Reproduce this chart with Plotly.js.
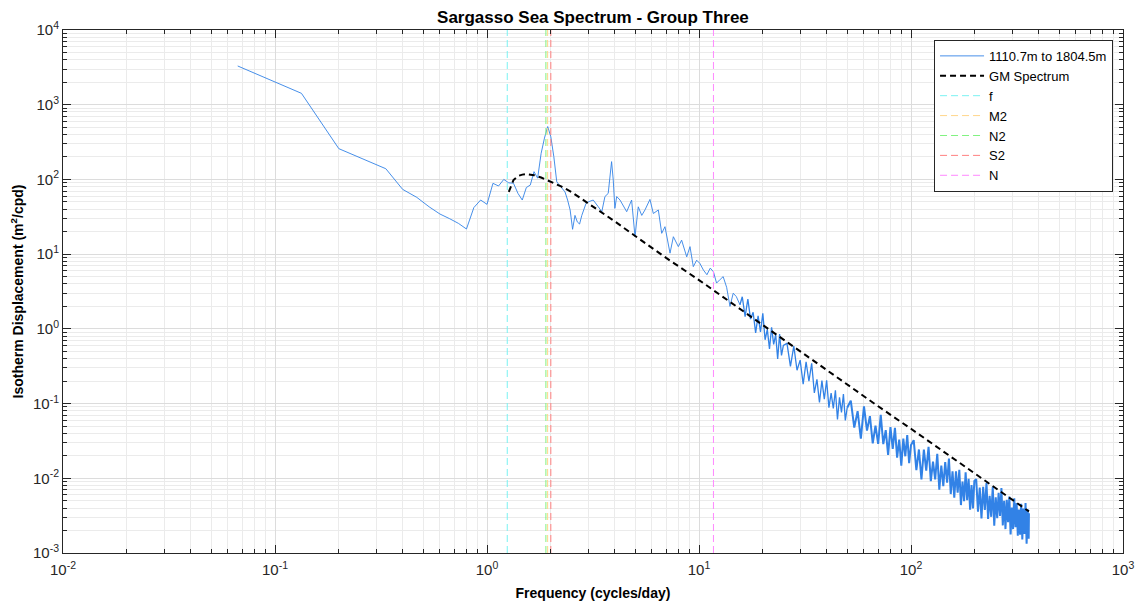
<!DOCTYPE html>
<html><head><meta charset="utf-8">
<script src="https://cdn.plot.ly/plotly-3.0.1.min.js"></script>
<style>html,body{margin:0;padding:0;background:#fff;}#chart{width:1144px;height:605px;}</style>
</head><body><div id="chart"></div>
<script>
// Observed spectrum (1110.7m to 1804.5m), cycles/day vs m^2/cpd
const specFreqLow = [0.0667,0.1333,0.2,0.2667,0.3333,0.4,0.4667,0.5333,0.6,0.6667,0.7333,0.8,0.8667,0.9333,1.0,1.0667,1.1333,1.2,1.2667,1.3333,1.4,1.4667,1.5333,1.6,1.6667,1.7333,1.8,1.8667,1.9333,2.0,2.0667,2.1333,2.2,2.2667,2.3333,2.4,2.4667,2.5333,2.6,2.6667,2.7333,2.8,2.8667,2.9333,3.0];
const specPsdLow  = [3300,1420,258,184,139,73.6,57.5,43,34.4,29.8,25.8,21.7,42,53,46.4,88.7,81.7,100,90,89,65,53,78,84,127,104,223,358,510,373,201,93,84,76,68,53,39,21.5,33,27,25.3,33,39,48,50];
const specFreqMid = [3.17,3.35,3.48,3.60,3.73,3.87,3.94,4.01,4.09,4.24,4.40,4.56,4.81,4.99,5.17,5.37,5.56,5.87,6.09,6.43,6.67,6.91,7.30,7.57,7.99,8.28,8.75,9.07,9.40,9.75,10.1,10.5,10.9,11.3,11.7,12.1,12.6,13.0,13.5,14.0,14.5,15.0,15.6];
const specPsdMid  = [53,43,37,59,65,173,98,41,59,53,43,37,53,17.1,43,33,39,54,35,39,19,23.3,10.3,17.1,12.6,15.4,9.2,12.6,6.8,8.3,7.5,6.1,5.3,6.5,5.8,4.1,4.6,5.0,3.6,2.0,3.0,2.7,2.1];
const specFreqHigh1 = [16,16.5,17,17.5,18,18.5,19,19.5,20,20.5,21,21.5,22,22.5,23,23.5,24,24.5,25,26,27,28,29,30,31,32,33,34,35,36,37,38,39,40,41,42,43,44,45,46,47,48,49,50];
const specPsdHigh1  = [2.69,1.46,2.51,1.35,1.67,0.885,1.49,0.91,1.61,0.714,0.984,0.54,1.05,0.62,0.84,0.395,0.85,0.44,0.60,0.64,0.315,0.589,0.279,0.381,0.182,0.361,0.199,0.346,0.139,0.211,0.1035,0.203,0.1146,0.205,0.0883,0.138,0.0861,0.151,0.0611,0.121,0.0759,0.134,0.0596,0.0879];
const specFreqHigh2 = [52,54,56,58,60,62,64,66,68,70,72,74,76,78,80,82,84,86,88,90,92,94,96,98,100,103,106,109,112,115,118,121,124,127,130,133,136,139,142,145,148,151,154,157,160,163,166,169,172,175,178,181,184,187,190,193,196,199];
const specPsdHigh2  = [0.1094,0.0476,0.0793,0.0340,0.0920,0.0435,0.0679,0.0294,0.0506,0.0289,0.0705,0.0286,0.0442,0.0206,0.0483,0.0248,0.0472,0.0189,0.0329,0.01476,0.0340,0.0197,0.0378,0.0159,0.0279,0.0324,0.01282,0.0243,0.00964,0.0242,0.01265,0.0264,0.00918,0.0167,0.00966,0.0212,0.00706,0.01483,0.00783,0.0165,0.00873,0.0184,0.00615,0.01242,0.00548,0.01242,0.00644,0.01303,0.00438,0.00906,0.00493,0.01202,0.00509,0.00986,0.00381,0.00809,0.00394,0.0092];
const specFreqHigh3 = [203,207,211,215,219,223,227,231,235,239,243,247,251,255,259,263,267,271,275,279,283,287,291,295,299,303,307,311,315,319,323,327,331,335,339,343,347,351,355,359,360];
const specPsdHigh3  = [0.00973,0.00356,0.00753,0.0029,0.00771,0.00377,0.00863,0.00285,0.00582,0.00305,0.00767,0.00232,0.00556,0.00292,0.0064,0.00314,0.00738,0.00234,0.00501,0.00209,0.00516,0.00259,0.0057,0.00177,0.00406,0.00209,0.00541,0.00222,0.00466,0.0017,0.00383,0.00176,0.00455,0.00152,0.00393,0.0018,0.00468,0.00133,0.00385,0.00155,0.0034];

// Garrett-Munk reference spectrum
const gmFreq = [1.267,1.333,1.4,1.467,1.533,1.6,1.667,1.8,2.0,2.25,2.5,3,4,5,7,10,15,20,30,50,70,100,150,200,300,360];
const gmPsd  = [68,98,111,116,118,117,114,106,93,80,68,48,27.5,17.5,8.9,4.5,2.0,1.1,0.50,0.18,0.092,0.046,0.0205,0.0116,0.0052,0.0036];

// Reference frequencies (cycles/day)
const refNames = ['f','M2','N2','S2','N'];
const refFreq  = [1.246,1.932,1.896,2.0,11.7];
const refColors = ['#7af2f2','#ffd68a','#80f280','#ff8080','#ff88ff'];

const xLimits = [0.01,1000];
const yLimits = [0.001,10000];
const xTickVals = [0.01,0.1,1,10,100,1000];
const xTickText = ['10<sup>-2</sup>','10<sup>-1</sup>','10<sup>0</sup>','10<sup>1</sup>','10<sup>2</sup>','10<sup>3</sup>'];
const yTickVals = [0.001,0.01,0.1,1,10,100,1000,10000];
const yTickText = ['10<sup>-3</sup>','10<sup>-2</sup>','10<sup>-1</sup>','10<sup>0</sup>','10<sup>1</sup>','10<sup>2</sup>','10<sup>3</sup>','10<sup>4</sup>'];

function minorVals(lo, hi){ const out=[]; for(let e=lo;e<hi;e++){for(let m=2;m<=9;m++){out.push(m*Math.pow(10,e));}} return out; }

// the one series is drawn in three pieces: thin low part, medium, and the dense high-frequency band
const lastOf = a => a[a.length-1];
const specFreqA = specFreqLow.concat(specFreqMid);
const specPsdA = specPsdLow.concat(specPsdMid);
const specFreqB = [lastOf(specFreqMid)].concat(specFreqHigh1);
const specPsdB = [lastOf(specPsdMid)].concat(specPsdHigh1);
const specFreqC = [lastOf(specFreqHigh1)].concat(specFreqHigh2, specFreqHigh3);
const specPsdC = [lastOf(specPsdHigh1)].concat(specPsdHigh2, specPsdHigh3);

const FONT = 'Liberation Sans, Arial, Helvetica, sans-serif';
const BLUE = '#3282e6';
const traces = [
  {x: specFreqA, y: specPsdA, type:'scatter', mode:'lines', name:'1110.7m to 1804.5m',
   legendgroup:'spec', line:{color:BLUE, width:0.9}},
  {x: specFreqB, y: specPsdB, type:'scatter', mode:'lines', name:'1110.7m to 1804.5m',
   legendgroup:'spec', showlegend:false, line:{color:BLUE, width:1.3}},
  {x: specFreqC, y: specPsdC, type:'scatter', mode:'lines', name:'1110.7m to 1804.5m',
   legendgroup:'spec', showlegend:false, line:{color:BLUE, width:2}},
  {x: gmFreq, y: gmPsd, type:'scatter', mode:'lines', name:'GM Spectrum',
   line:{color:'#000000', width:2, dash:'6px,4px'}}
];
refNames.forEach((n,i)=>{
  traces.push({x:[refFreq[i],refFreq[i]], y:yLimits, type:'scatter', mode:'lines', name:n,
    line:{color:refColors[i], width:1, dash:'7px,4px'}});
});

const axisCommon = {
  type:'log', ticks:'inside', ticklen:8, tickcolor:'#262626', tickwidth:1,
  showline:true, linecolor:'#262626', linewidth:1, mirror:'ticks',
  showgrid:true, gridcolor:'#dcdcdc', gridwidth:1, zeroline:false,
  tickfont:{family:FONT, size:15, color:'#262626'}, tickmode:'array'
};
const layout = {
  width:1144, height:605,
  margin:{l:63, r:21, t:30, b:52},
  paper_bgcolor:'#fff', plot_bgcolor:'#fff',
  font:{family:FONT, color:'#262626'},
  showlegend:true,
  title:{text:'<b>Sargasso Sea Spectrum - Group Three</b>', x:0.5183, xanchor:'center', y:0.972, yanchor:'middle', font:{family:FONT, size:17, color:'#000'}},
  xaxis: Object.assign({}, axisCommon, {
    range:[Math.log10(xLimits[0]), Math.log10(xLimits[1])],
    tickvals:xTickVals, ticktext:xTickText, ticklabelstandoff:3,
    minor:{tickmode:'array', tickvals:minorVals(-2,3), ticks:'inside', ticklen:4, tickcolor:'#262626', showgrid:true, gridcolor:'#ebebeb'},
    title:{text:'<b>Frequency (cycles/day)</b>', font:{family:FONT, size:14, color:'#000'}, standoff:11}
  }),
  yaxis: Object.assign({}, axisCommon, {
    range:[Math.log10(yLimits[0]), Math.log10(yLimits[1])],
    tickvals:yTickVals, ticktext:yTickText,
    minor:{tickmode:'array', tickvals:minorVals(-3,4), ticks:'inside', ticklen:4, tickcolor:'#262626', showgrid:true, gridcolor:'#ebebeb'},
    title:{text:'<b>Isotherm Displacement (m<sup>2</sup>/cpd)</b>', font:{family:FONT, size:14, color:'#000'}, standoff:6}
  }),
  legend:{x:0.9906, xanchor:'right', y:0.981, yanchor:'top', bgcolor:'#fff', bordercolor:'#262626', borderwidth:1,
    font:{family:FONT, size:13, color:'#000'}, itemwidth:44, tracegroupgap:0}
};
Plotly.newPlot('chart', traces, layout, {staticPlot:true, displayModeBar:false});
</script>
</body></html>
